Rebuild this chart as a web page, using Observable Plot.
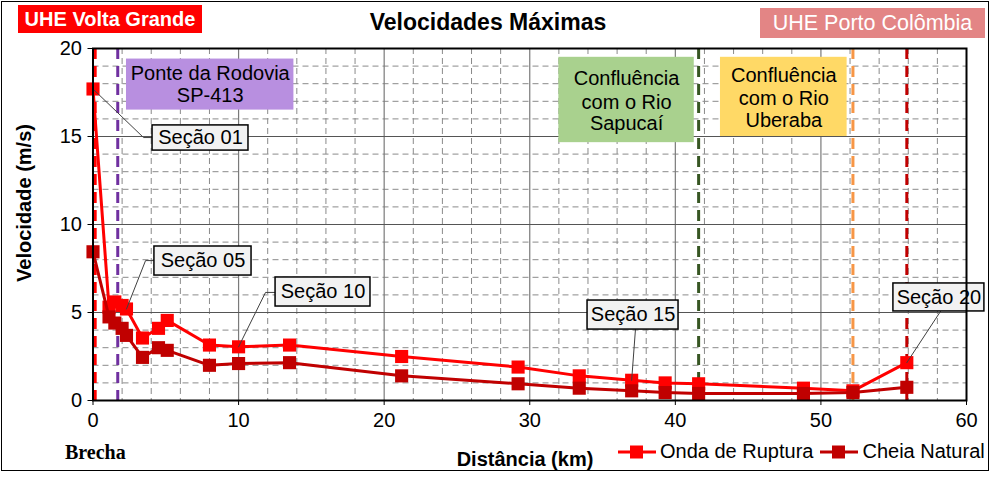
<!DOCTYPE html>
<html>
<head>
<meta charset="utf-8">
<script src="https://cdn.jsdelivr.net/npm/d3@7"></script>
<script src="https://cdn.jsdelivr.net/npm/@observablehq/plot@0.6"></script>
<style>
  html, body { margin: 0; padding: 0; background: #fff; }
  #wrap { position: relative; width: 992px; height: 477px; font-family: "Liberation Sans", Arial, sans-serif; }
  #border { position: absolute; left: 1px; top: 1px; width: 988px; height: 470px; border: 1px solid #000; box-sizing: border-box; pointer-events: none; }
  .abs { position: absolute; white-space: nowrap; }
  #hdrL { left: 18px; top: 5px; width: 184px; height: 28px; background: #ff0000; color: #fff; font-weight: bold; font-size: 20px; line-height: 28px; text-align: center; }
  #hdrR { left: 760px; top: 8px; width: 225px; height: 30px; background: #e38585; color: #fff; font-size: 21.5px; line-height: 30px; text-align: center; }
  #title { left: 0; width: 976px; top: 8px; text-align: center; font-weight: bold; font-size: 23px; line-height: 28px; }
  #ylab { left: 24px; top: 203px; transform: translate(-50%, -50%) rotate(-90deg); font-weight: bold; font-size: 20px; }
  #xlab { left: 525px; top: 448px; transform: translateX(-50%); font-weight: bold; font-size: 20px; line-height: 23px; }
  #brecha { left: 65px; top: 441px; font-family: "Liberation Serif", "Times New Roman", serif; font-weight: bold; font-size: 20px; line-height: 23px; }
  #legend { left: 617px; top: 440px; font-size: 20px; line-height: 23px; display: flex; align-items: center; }
  #legend .item { display: flex; align-items: center; margin-right: 6px; }
  #legend svg { margin-right: 3px; }
</style>
</head>
<body>
<div id="wrap"></div>
<script>
// ---- data ----
const sections = ["01","02","03","04","05","06","07","08","09","10","11","12","13","14","15","16","17","18","19","20"];
const distanceKm = [0, 1.1, 1.5, 2.0, 2.3, 3.4, 4.5, 5.1, 8.0, 10.0, 13.5, 21.2, 29.2, 33.4, 37.0, 39.3, 41.6, 48.8, 52.2, 55.9];
const ondaRuptura = [17.7, 5.3, 5.6, 5.4, 5.2, 3.55, 4.1, 4.55, 3.15, 3.05, 3.15, 2.5, 1.9, 1.4, 1.15, 1.0, 0.95, 0.7, 0.55, 2.15];
const cheiaNatural = [8.45, 4.75, 4.4, 4.1, 3.7, 2.45, 3.0, 2.85, 2.0, 2.1, 2.15, 1.4, 0.95, 0.7, 0.55, 0.45, 0.4, 0.4, 0.45, 0.75];
const seriesNames = ["Onda de Ruptura", "Cheia Natural"];
const xTicks = [0, 10, 20, 30, 40, 50, 60];
const yTicks = [0, 5, 10, 15, 20];
const markerKm = [0.15, 1.7, 41.6, 52.2, 55.9];
const markerNames = ["Brecha", "Ponte da Rodovia SP-413", "Confluência com o Rio Sapucaí", "Confluência com o Rio Uberaba", "UHE Porto Colômbia"];
const calloutSections = [0, 4, 9, 14, 19];

// ---- styling / layout ----
const colors = {onda: "#ff0000", cheia: "#c00000"};
const markerColors = ["#ff0000", "#7030a0", "#375623", "#f79646", "#c00000"];

const rows = [];
sections.forEach((s, i) => {
  rows.push({sec: s, km: distanceKm[i], v: ondaRuptura[i], serie: seriesNames[0]});
});
sections.forEach((s, i) => {
  rows.push({sec: s, km: distanceKm[i], v: cheiaNatural[i], serie: seriesNames[1]});
});
const onda = rows.filter(d => d.serie === seriesNames[0]);
const cheia = rows.filter(d => d.serie === seriesNames[1]);

const minorX = d3.range(2, 60, 2).filter(v => v % 10 !== 0);
const minorY = d3.range(1, 20, 1).filter(v => v % 5 !== 0);
const majorX = [10, 20, 30, 40, 50];
const majorY = [5, 10, 15];

// info boxes (data units)
const infoBoxes = [
  {x1: 2.3, x2: 13.8, y1: 16.5, y2: 19.4, fill: "#b88fe0", lines: ["Ponte da Rodovia", "SP-413"], cx: 8.05, ly: [18.55, 17.3]},
  {x1: 32.0, x2: 41.3, y1: 14.65, y2: 19.5, fill: "#a9d18e", lines: ["Confluência", "com o Rio", "Sapucaí"], cx: 36.65, ly: [18.3, 16.95, 15.75]},
  {x1: 43.1, x2: 51.8, y1: 15.0, y2: 19.5, fill: "#ffd966", lines: ["Confluência", "com o Rio", "Uberaba"], cx: 47.45, ly: [18.45, 17.15, 15.9]}
];
const infoText = infoBoxes.flatMap(b => b.lines.map((t, j) => ({t, x: b.cx, y: b.ly[j]})));

// callouts: box extents and leader path in data units
const calloutGeom = [
  {x1: 4.09, x2: 10.68, y1: 14.2, y2: 15.63, path: [[3.47, 14.94], [4.09, 14.94]]},
  {x1: 4.22, x2: 10.89, y1: 7.1, y2: 8.75, path: [[3.61, 7.95], [4.22, 7.95]]},
  {x1: 12.54, x2: 19.06, y1: 5.34, y2: 6.99, path: [[11.85, 6.14], [12.54, 6.14]]},
  {x1: 33.97, x2: 40.22, y1: 4.03, y2: 5.68, path: [[37.26, 4.03]]},
  {x1: 54.98, x2: 61.23, y1: 5.06, y2: 6.65, path: [[58.21, 5.06]]}
];
const callouts = calloutSections.map((idx, k) => ({...calloutGeom[k], label: "Seção " + sections[idx], idx}));
const leaderPts = callouts.flatMap((c, k) => [[distanceKm[c.idx], ondaRuptura[c.idx]], ...c.path].map(p => ({x: p[0], y: p[1], k})));

const chart = Plot.plot({
  width: 992,
  height: 477,
  marginLeft: 92.5,
  marginRight: 26,
  marginTop: 48,
  marginBottom: 77,
  x: {domain: [0, 60]},
  y: {domain: [0, 20]},
  style: {fontFamily: "Liberation Sans, Arial, sans-serif", fontSize: "20px", color: "#000", background: "transparent", overflow: "visible"},
  marks: [
    Plot.ruleX(minorX, {stroke: "#8a8a8a", strokeWidth: 1, strokeDasharray: "6,4"}),
    Plot.ruleY(minorY, {stroke: "#8a8a8a", strokeWidth: 1, strokeDasharray: "6,4"}),
    Plot.ruleX(majorX, {stroke: "#7a7a7a", strokeWidth: 1.2}),
    Plot.ruleY(majorY, {stroke: "#555", strokeWidth: 1.2}),
    Plot.rect(infoBoxes, {x1: "x1", x2: "x2", y1: "y1", y2: "y2", fill: "fill"}),
    Plot.text(infoText, {x: "x", y: "y", text: "t", fontSize: 20, fill: "#000"}),
    Plot.ruleX(markerKm.map((km, i) => ({km, c: markerColors[i]})), {x: "km", stroke: "c", strokeWidth: 3, strokeDasharray: "11,7"}),
    Plot.line(onda, {x: "km", y: "v", stroke: colors.onda, strokeWidth: 3}),
    Plot.dot(onda, {x: "km", y: "v", symbol: "square", r: 7.4, fill: colors.onda, stroke: null}),
    Plot.line(cheia, {x: "km", y: "v", stroke: colors.cheia, strokeWidth: 3}),
    Plot.dot(cheia, {x: "km", y: "v", symbol: "square", r: 7.4, fill: colors.cheia, stroke: null}),
    Plot.line(leaderPts, {x: "x", y: "y", z: "k", stroke: "#404040", strokeWidth: 1}),
    Plot.rect(callouts, {x1: "x1", x2: "x2", y1: "y1", y2: "y2", fill: "#f2f2f2", stroke: "#000", strokeWidth: 1.5}),
    Plot.text(callouts, {x: d => (d.x1 + d.x2) / 2, y: d => (d.y1 + d.y2) / 2, text: "label", fontSize: 20, fill: "#000"}),
    Plot.frame({stroke: "#000", strokeWidth: 2}),
    Plot.axisX({ticks: xTicks, tickSize: 5, tickPadding: 7, label: null, fontSize: 20, tickFormat: d => String(d)}),
    Plot.axisY({ticks: yTicks, tickSize: 5, tickPadding: 6, label: null, fontSize: 20, tickFormat: d => String(d)})
  ]
});

const wrap = document.getElementById("wrap");
wrap.appendChild(chart);
chart.style.position = "absolute";
chart.style.left = "0px";
chart.style.top = "0px";

function addDiv(id, text) {
  const d = document.createElement("div");
  d.id = id; d.className = "abs"; d.textContent = text;
  wrap.appendChild(d);
  return d;
}
addDiv("hdrL", "UHE Volta Grande");
addDiv("hdrR", "UHE Porto Colômbia");
addDiv("title", "Velocidades Máximas");
addDiv("ylab", "Velocidade (m/s)");
addDiv("xlab", "Distância (km)");
addDiv("brecha", markerNames[0]);

const leg = document.createElement("div");
leg.id = "legend"; leg.className = "abs";
[[seriesNames[0], colors.onda], [seriesNames[1], colors.cheia]].forEach(([name, c]) => {
  const it = document.createElement("div");
  it.className = "item";
  it.innerHTML = `<svg width="40" height="16"><line x1="1" x2="39" y1="8" y2="8" stroke="${c}" stroke-width="3"/><rect x="13" y="1.5" width="13" height="13" fill="${c}"/></svg><span>${name}</span>`;
  leg.appendChild(it);
});
wrap.appendChild(leg);

const b = document.createElement("div");
b.id = "border";
wrap.appendChild(b);
</script>
</body>
</html>
